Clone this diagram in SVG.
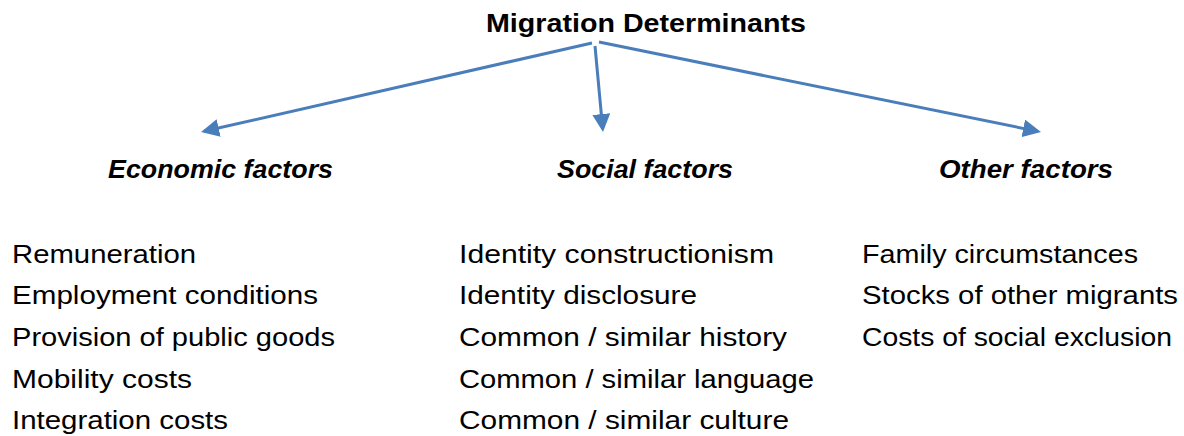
<svg xmlns="http://www.w3.org/2000/svg" width="1184" height="436" viewBox="0 0 1184 436">
<style>
text{font-family:"Liberation Sans","Open Sans",Arial,sans-serif;fill:#000}
.t{font-size:26px;font-weight:bold}
.h{font-size:26px;font-weight:bold;font-style:italic}
.i{font-size:25px}
.c{stroke:#4a7ebb;stroke-width:3;fill:none}
</style>
<defs>
<marker id="ah" markerWidth="6" markerHeight="6" refX="5" refY="3" orient="auto" markerUnits="strokeWidth">
<path d="M0,0 L6,3 L0,6 Z" fill="#4a7ebb"/>
</marker>
</defs>
<g id="title"><text class="t" x="486" y="32" textLength="320" lengthAdjust="spacingAndGlyphs">Migration Determinants</text></g>
<g id="connectors">
<line class="c" x1="592" y1="43" x2="204" y2="131.3" marker-end="url(#ah)"/>
<line class="c" x1="595" y1="46" x2="602.7" y2="129" marker-end="url(#ah)"/>
<line class="c" x1="599" y1="42" x2="1038" y2="131.4" marker-end="url(#ah)"/>
</g>
<g id="economic">
<text class="h" x="108" y="178" textLength="225" lengthAdjust="spacingAndGlyphs">Economic factors</text>
<text class="i" x="12" y="263" textLength="184" lengthAdjust="spacingAndGlyphs">Remuneration</text>
<text class="i" x="12" y="304" textLength="306" lengthAdjust="spacingAndGlyphs">Employment conditions</text>
<text class="i" x="12" y="346" textLength="323" lengthAdjust="spacingAndGlyphs">Provision of public goods</text>
<text class="i" x="12" y="388" textLength="180" lengthAdjust="spacingAndGlyphs">Mobility costs</text>
<text class="i" x="12" y="429" textLength="216" lengthAdjust="spacingAndGlyphs">Integration costs</text>
</g>
<g id="social">
<text class="h" x="557" y="178" textLength="176" lengthAdjust="spacingAndGlyphs">Social factors</text>
<text class="i" x="459" y="263" textLength="315" lengthAdjust="spacingAndGlyphs">Identity constructionism</text>
<text class="i" x="459" y="304" textLength="238" lengthAdjust="spacingAndGlyphs">Identity disclosure</text>
<text class="i" x="459" y="346" textLength="328" lengthAdjust="spacingAndGlyphs">Common / similar history</text>
<text class="i" x="459" y="388" textLength="355" lengthAdjust="spacingAndGlyphs">Common / similar language</text>
<text class="i" x="459" y="429" textLength="330" lengthAdjust="spacingAndGlyphs">Common / similar culture</text>
</g>
<g id="other">
<text class="h" x="939" y="178" textLength="174" lengthAdjust="spacingAndGlyphs">Other factors</text>
<text class="i" x="862" y="263" textLength="276" lengthAdjust="spacingAndGlyphs">Family circumstances</text>
<text class="i" x="862" y="304" textLength="316" lengthAdjust="spacingAndGlyphs">Stocks of other migrants</text>
<text class="i" x="862" y="346" textLength="310" lengthAdjust="spacingAndGlyphs">Costs of social exclusion</text>
</g>
</svg>
